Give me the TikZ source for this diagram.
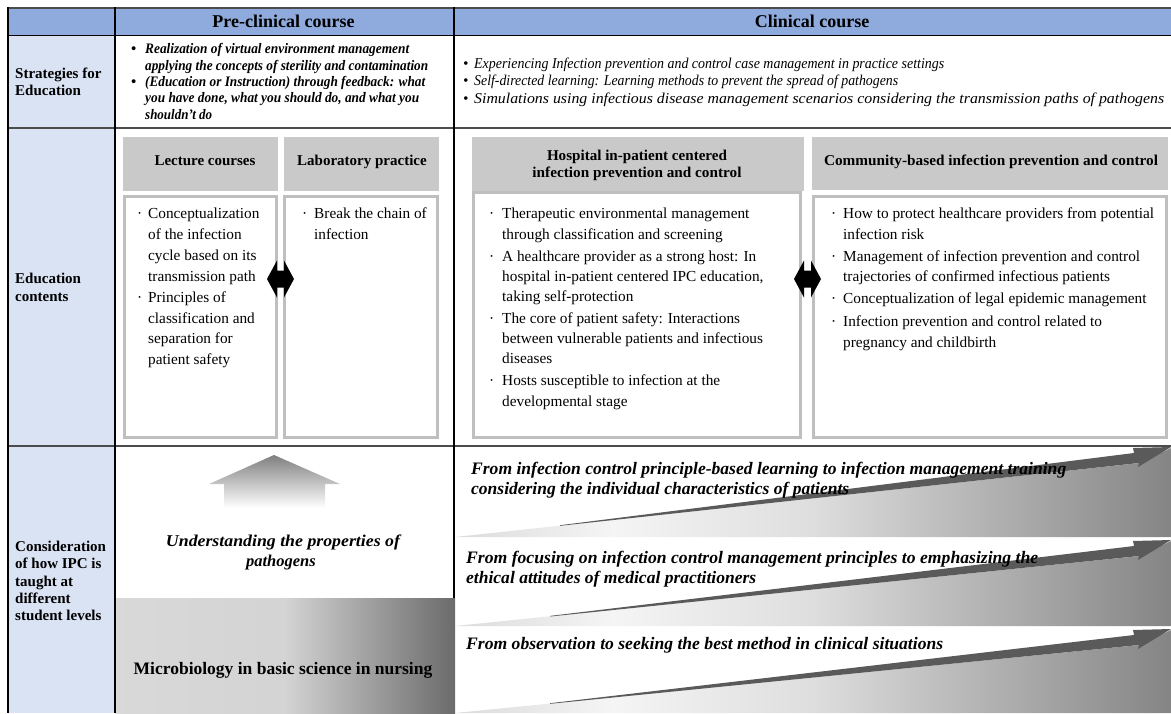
\documentclass[tikz,border=0pt]{standalone}
\usepackage{fontspec}
\setmainfont{Liberation Serif}
\usepackage{graphicx}
\newcommand\fw[2]{\resizebox{#1pt}{\height}{#2}}
\pgfdeclarehorizontalshading{wedgeshade}{100bp}{color(0bp)=(black!14); color(25bp)=(black!14); color(36bp)=(black!4); color(50bp)=(black!13); color(75bp)=(black!48); color(100bp)=(black!48)}
\pgfdeclarehorizontalshading{microshade}{100bp}{color(0bp)=(black!15); color(25bp)=(black!15); color(50bp)=(black!17); color(75bp)=(black!58); color(100bp)=(black!58)}
\definecolor{hdrblue}{HTML}{8FAADC}
\definecolor{lblblue}{HTML}{DAE3F3}
\definecolor{boxgray}{HTML}{C9C9C9}
\definecolor{boxline}{HTML}{BFBFBF}
\definecolor{ribboncol}{HTML}{5A5A5A}
\begin{document}
\begin{tikzpicture}[x=1pt,y=-1pt,
  lbl/.style={font=\fontsize{15}{17}\selectfont\bfseries, inner sep=0, anchor=base west},
  hdr/.style={font=\fontsize{18}{20}\selectfont\bfseries, inner sep=0, anchor=base},
  bxh/.style={font=\fontsize{15}{16}\selectfont\bfseries, inner sep=0, anchor=base},
  bod/.style={font=\fontsize{15.3}{18}\selectfont, inner sep=0, anchor=base west},
  stg/.style={font=\fontsize{14.5}{15}\selectfont\bfseries\itshape, inner sep=0, anchor=base west},
  stc/.style={font=\fontsize{15}{15}\selectfont\itshape, inner sep=0, anchor=base west},
  bnd/.style={font=\fontsize{17.5}{17}\selectfont\bfseries\itshape, inner sep=0, anchor=base west},
  hbox/.style={fill=boxgray},
  cbox/.style={fill=white, draw=boxline, line width=3pt},
  dblarrow/.style={fill=black},
  rowline/.style={draw=black!70, line width=2.2pt},
  colline/.style={draw=black, line width=1.2pt}
]
\useasboundingbox (0,0) rectangle (1171,713);
\fill[white] (0,0) rectangle (1171,713);
% backgrounds
\fill[hdrblue] (8,8) rectangle (1171,35);
\fill[lblblue] (8,35) rectangle (115,713);
% pre-clinical bottom gradient
\shade[shading=microshade] (115,598) rectangle (455,713);
% up arrow
\shade[top color=black!50, bottom color=white] (274,455) -- (340,484) -- (325,484) -- (325,508) -- (224,508) -- (224,484) -- (209,484) -- cycle;
% clinical bands
\foreach \T/\B/\xs/\Lxs in {446/537/560/524.6, 539/626/550/615.3, 628/713/550/702.6}{
  \shade[shading=wedgeshade] (455,\B) -- (1140,\T+17) -- (1171,\T+2) -- (1171,\B) -- cycle;
  \fill[ribboncol] (\xs,\Lxs+0.6) -- (1134,\T+7) -- (1133,\T+2) -- (1171,\T+1) -- (1138,\T+21) -- (1139,\T+17) -- (\xs,\Lxs+1.2) -- cycle;
}
% education boxes
\fill[hbox] (123,137) rectangle (278,191);
\fill[hbox] (284,137) rectangle (439,191);
\fill[hbox] (472,137) rectangle (804,191);
\fill[hbox] (812,137) rectangle (1168,190);
\draw[cbox] (124.5,196.5) rectangle (276.5,437);
\draw[cbox] (284.5,196.5) rectangle (437.5,437);
\draw[cbox] (473.5,192.5) rectangle (800.5,437);
\draw[cbox] (813.5,196.5) rectangle (1166,437);
% double arrows
\fill[dblarrow] (267,279) -- (277,260.5) -- (277,270.5) -- (284,270.5) -- (284,260.5) -- (294,279) -- (284,297.5) -- (284,287.5) -- (277,287.5) -- (277,297.5) -- cycle;
\fill[dblarrow] (794,279) -- (804,260.5) -- (804,270.5) -- (811,270.5) -- (811,260.5) -- (821,279) -- (811,297.5) -- (811,287.5) -- (804,287.5) -- (804,297.5) -- cycle;
% table lines
\draw[rowline] (8,8) -- (1171,8);
\draw[draw=black, line width=0.8pt] (8,35) -- (1171,35);
\draw[rowline] (8,128) -- (1171,128);
\draw[rowline] (8,446) -- (1171,446);
\draw[colline] (8,7) -- (8,713);
\draw[colline] (115,7) -- (115,713);
\draw[colline] (454,7) -- (454,598);

% header texts
\node[hdr] (pre) at (283.5,27) {Pre-clinical course};
\node[hdr] (cli) at (812,27) {Clinical course};
% label column
\node[lbl] (s1) at (15,78.5) {Strategies for};
\node[lbl] (s2) at (15,95.5) {Education};
\node[lbl] (e1) at (15,283.5) {Education};
\node[lbl] (e2) at (15,301.5) {contents};
\node[lbl] (c1) at (15,551.5) {Consideration};
\node[lbl] (c2) at (15,568.5) {of how IPC is};
\node[lbl] (c3) at (15,586.5) {taught at};
\node[lbl] (c4) at (15,603.5) {different};
\node[lbl] (c5) at (15,620.5) {student levels};
% strategies pre-clinical
\node[stg] (pb1) at (131,53.5) {•};
\node[stg] (pb2) at (131,86.5) {•};
\node[stg] (p1) at (145,53.5) {\fw{264}{Realization of virtual environment management}};
\node[stg] (p2) at (145,70) {\fw{283}{applying the concepts of sterility and contamination}};
\node[stg] (p3) at (145,86.5) {\fw{280}{(Education or Instruction) through feedback: what}};
\node[stg] (p4) at (145,102.5) {\fw{274}{you have done, what you should do, and what you}};
\node[stg] (p5) at (145,119) {\fw{67}{shouldn’t do}};
% strategies clinical
\node[stc] (qb1) at (463,68.5) {•};
\node[stc] (qb2) at (463,85.5) {•};
\node[stc] (qb3) at (463,103.5) {•};
\node[stc] (q1) at (474,68.5) {\fw{470}{Experiencing Infection prevention and control case management in practice settings}};
\node[stc] (q2) at (474,85.5) {\fw{424}{Self-directed learning: Learning methods to prevent the spread of pathogens}};
\node[stc] (q3) at (474,103.5) {\fw{690}{Simulations using infectious disease management scenarios considering the transmission paths of pathogens}};
% box headers
\node[bxh] (lh) at (205,165) {Lecture courses};
\node[bxh] (labh) at (362,165) {Laboratory practice};
\node[bxh] (hh1) at (637,160) {\fw{180}{Hospital in-patient centered}};
\node[bxh] (hh2) at (637,177) {\fw{209}{infection prevention and control}};
\node[bxh] (ch) at (991,165) {\fw{334}{Community-based infection prevention and control}};
% lecture body
\node[bod] (lb1) at (137,218) {·};
\node[bod] (lb2) at (137,302) {·};
\node[bod] (l1) at (148,218) {Conceptualization};
\node[bod] (l2) at (148,239.5) {of the infection};
\node[bod] (l3) at (148,260) {cycle based on its};
\node[bod] (l4) at (148,281) {transmission path};
\node[bod] (l5) at (148,302) {Principles of};
\node[bod] (l6) at (148,323) {classification and};
\node[bod] (l7) at (148,343) {separation for};
\node[bod] (l8) at (148,364) {patient safety};
% lab body
\node[bod] (ab1) at (302,218) {·};
\node[bod] (a1) at (314,218) {Break the chain of};
\node[bod] (a2) at (314,239.5) {infection};
% hospital body
\node[bod] (hb1) at (489,218) {·};
\node[bod] (hb2) at (489,261.5) {·};
\node[bod] (hb3) at (489,323.5) {·};
\node[bod] (hb4) at (489,385.5) {·};
\node[bod] (h1) at (502,218) {Therapeutic environmental management};
\node[bod] (h2) at (502,239.5) {through classification and screening};
\node[bod] (h3) at (502,261.5) {A healthcare provider as a strong host: In};
\node[bod] (h4) at (502,281.5) {hospital in-patient centered IPC education,};
\node[bod] (h5) at (502,301.5) {taking self-protection};
\node[bod] (h6) at (502,323.5) {The core of patient safety: Interactions};
\node[bod] (h7) at (502,343.5) {between vulnerable patients and infectious};
\node[bod] (h8) at (502,363.5) {diseases};
\node[bod] (h9) at (502,385.5) {Hosts susceptible to infection at the};
\node[bod] (h10) at (502,406.5) {developmental stage};
% community body
\node[bod] (mb1) at (831,218.5) {·};
\node[bod] (mb2) at (831,261.5) {·};
\node[bod] (mb3) at (831,303.5) {·};
\node[bod] (mb4) at (831,326.5) {·};
\node[bod] (m1) at (843,218.5) {How to protect healthcare providers from potential};
\node[bod] (m2) at (843,239.5) {infection risk};
\node[bod] (m3) at (843,261.5) {Management of infection prevention and control};
\node[bod] (m4) at (843,281.5) {trajectories of confirmed infectious patients};
\node[bod] (m5) at (843,303.5) {Conceptualization of legal epidemic management};
\node[bod] (m6) at (843,326.5) {Infection prevention and control related to};
\node[bod] (m7) at (843,347.5) {pregnancy and childbirth};
% pre-clinical bottom texts
\node[font=\fontsize{16.5}{18}\selectfont\bfseries\itshape, inner sep=0, anchor=base] (u1) at (283,546) {\fw{234}{Understanding the properties of}};
\node[font=\fontsize{16.5}{18}\selectfont\bfseries\itshape, inner sep=0, anchor=base] (u2) at (281,566) {pathogens};
\node[font=\fontsize{17.5}{19}\selectfont\bfseries, inner sep=0, anchor=base] (mic) at (283,674) {Microbiology in basic science in nursing};
% band texts
\node[bnd] (b11) at (471,474) {\fw{595}{From infection control principle-based learning to infection management training}};
\node[bnd] (b12) at (471,494) {\fw{378}{considering the individual characteristics of patients}};
\node[bnd] (b21) at (466,563) {\fw{572}{From focusing on infection control management principles to emphasizing the}};
\node[bnd] (b22) at (466,583) {\fw{290}{ethical attitudes of medical practitioners}};
\node[bnd] (b31) at (466,649) {\fw{477}{From observation to seeking the best method in clinical situations}};
\end{tikzpicture}
\end{document}
